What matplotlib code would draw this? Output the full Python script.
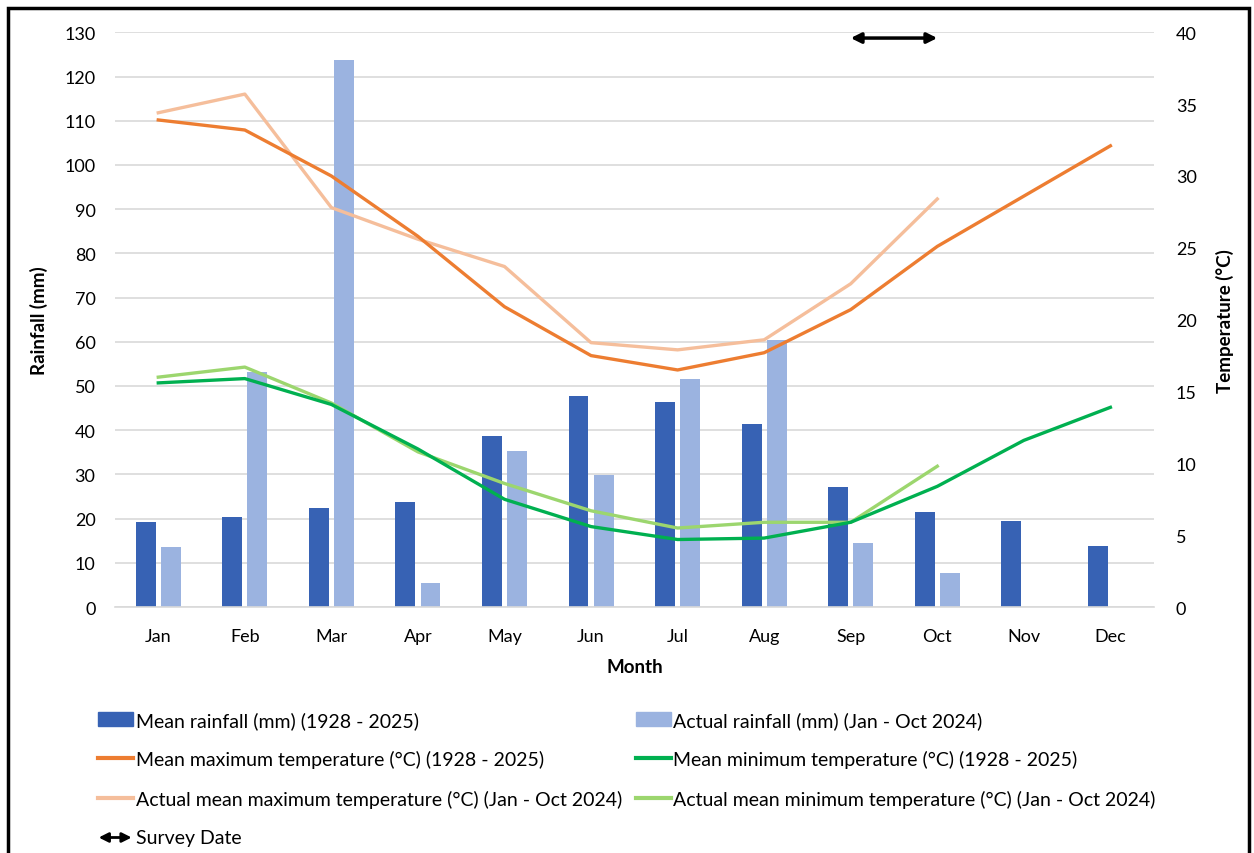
import numpy as np
import matplotlib
matplotlib.use("Agg")
import matplotlib.pyplot as plt
from matplotlib.lines import Line2D
from matplotlib.patches import Patch, Rectangle, FancyArrowPatch

plt.rcParams['font.family'] = ['Lato', 'DejaVu Sans']

# Data
months = ['Jan', 'Feb', 'Mar', 'Apr', 'May', 'Jun', 'Jul', 'Aug', 'Sep', 'Oct', 'Nov', 'Dec']
mean_rain = [19.3, 20.3, 22.3, 23.7, 38.6, 47.8, 46.3, 41.3, 27.1, 21.6, 19.4, 13.9]
actual_rain = [13.6, 53.1, 123.7, 5.4, 35.3, 29.9, 51.5, 60.4, 14.6, 7.7]
mean_max = [33.9, 33.2, 30.0, 25.8, 20.9, 17.5, 16.5, 17.7, 20.7, 25.1, 28.6, 32.1]
actual_max = [34.4, 35.7, 27.8, 25.6, 23.7, 18.4, 17.9, 18.6, 22.5, 28.4]
mean_min = [15.6, 15.9, 14.1, 11.0, 7.5, 5.6, 4.7, 4.8, 5.9, 8.4, 11.6, 13.9]
actual_min = [16.0, 16.7, 14.2, 10.8, 8.6, 6.7, 5.5, 5.9, 5.9, 9.8]
survey_start, survey_end, survey_level = 8, 9, 39.6  # month index, month index, degC

c_mean_rain = '#3762B4'
c_act_rain = '#9BB3E0'
c_mean_max = '#ED7D31'
c_act_max = '#F5BE9B'
c_mean_min = '#00B050'
c_act_min = '#9CD66E'

fig = plt.figure(figsize=(12.54, 8.54), dpi=100)
ax = fig.add_axes([0.0917, 0.288, 0.8283, 0.673])
ax2 = ax.twinx()

x = np.arange(len(months))
xa = np.arange(len(actual_rain))
w = 0.23
ax.bar(x - 0.145, mean_rain, width=w, color=c_mean_rain, zorder=2)
ax.bar(xa + 0.145, actual_rain, width=w, color=c_act_rain, zorder=2)

ax.set_xlim(-0.5, 11.5)
ax.set_ylim(0, 130)
ax.set_yticks(range(0, 131, 10))
ax.set_xticks(x)
ax.set_xticklabels(months)
ax.grid(axis='y', color='#D9D9D9', linewidth=1.2, zorder=0)
ax.set_axisbelow(True)
for s in ['top', 'right', 'left']:
    ax.spines[s].set_visible(False)
ax.spines['bottom'].set_color('#D9D9D9')
ax.spines['bottom'].set_linewidth(1.2)
ax.tick_params(axis='both', length=0, labelsize=13)
ax.tick_params(axis='y', pad=14)
ax.tick_params(axis='x', pad=15)
ax.set_ylabel('Rainfall (mm)', fontsize=13.5, fontweight='bold', labelpad=12)
ax.set_xlabel('Month', fontsize=13.5, fontweight='bold', labelpad=10)

lw = 2.4
ax2.plot(x, mean_max, color=c_mean_max, lw=lw, zorder=4)
ax2.plot(xa, actual_max, color=c_act_max, lw=lw, zorder=3)
ax2.plot(x, mean_min, color=c_mean_min, lw=lw, zorder=4)
ax2.plot(xa, actual_min, color=c_act_min, lw=lw, zorder=3)
ax2.annotate('', xy=(survey_end, survey_level), xytext=(survey_start, survey_level),
             arrowprops=dict(arrowstyle='<|-|>', color='black', lw=2.5,
                             mutation_scale=15, shrinkA=0, shrinkB=0))
ax2.set_ylim(0, 40)
ax2.set_yticks(range(0, 41, 5))
for s in ax2.spines.values():
    s.set_visible(False)
ax2.tick_params(axis='y', length=0, labelsize=13, pad=16)
ax2.set_ylabel('Temperature (°C)', fontsize=13.5, fontweight='bold', labelpad=14)

# Legend
handles = [
    Patch(color=c_mean_rain, label='Mean rainfall (mm) (1928 - 2025)'),
    Line2D([], [], color=c_mean_max, lw=3, label='Mean maximum temperature (°C) (1928 - 2025)'),
    Line2D([], [], color=c_act_max, lw=3, label='Actual mean maximum temperature (°C) (Jan - Oct 2024)'),
    Line2D([], [], color='none', label='Survey Date'),
    Patch(color=c_act_rain, label='Actual rainfall (mm) (Jan - Oct 2024)'),
    Line2D([], [], color=c_mean_min, lw=3, label='Mean minimum temperature (°C) (1928 - 2025)'),
    Line2D([], [], color=c_act_min, lw=3, label='Actual mean minimum temperature (°C) (Jan - Oct 2024)'),
]
leg = fig.legend(handles=handles, ncol=2, loc='upper left', bbox_to_anchor=(0.064, 0.187),
                 frameon=False, fontsize=14, handlelength=1.8, handletextpad=0.15,
                 columnspacing=0.7, labelspacing=1.1)
fig.canvas.draw()
# double arrow marker for the survey date legend entry
sd_text = leg.get_texts()[3]
bb = sd_text.get_window_extent()
fy = (bb.y0 + bb.y1) / 2 / fig.bbox.height
fx0 = (bb.x0 - 37) / fig.bbox.width
fx1 = (bb.x0 - 4) / fig.bbox.width
fig.add_artist(FancyArrowPatch((fx0, fy), (fx1, fy), transform=fig.transFigure,
                               arrowstyle='<|-|>', color='black', lw=2,
                               mutation_scale=14, shrinkA=0, shrinkB=0))

# outer frame
fig.add_artist(Rectangle((0.006, -0.05), 0.99, 1.04, transform=fig.transFigure,
                         fill=False, edgecolor='black', lw=2.5))

fig.savefig('out.png', dpi=100)
